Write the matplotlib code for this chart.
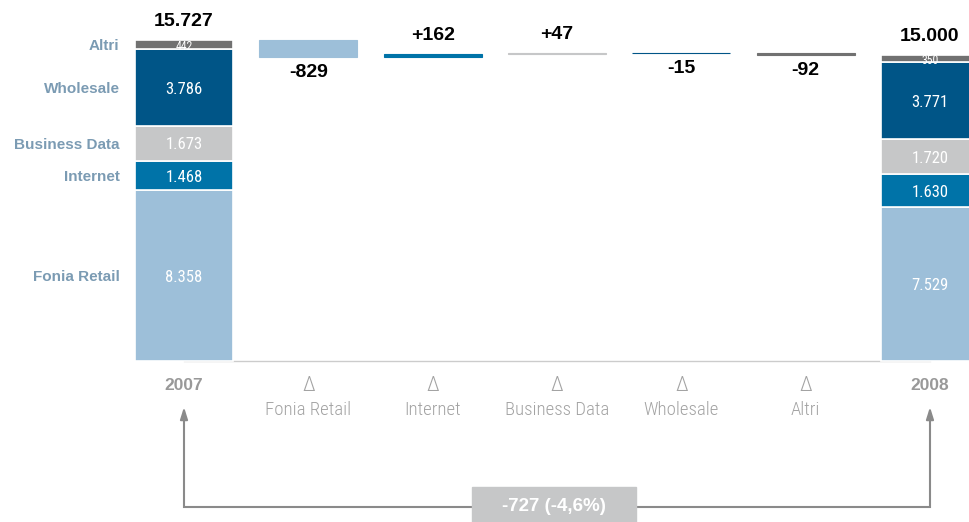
import matplotlib
matplotlib.use('Agg')
import matplotlib.pyplot as plt
from matplotlib.patches import Rectangle

# Ricavi per segmento (milioni di euro)
segments = ['Fonia Retail', 'Internet', 'Business Data', 'Wholesale', 'Altri']
values_2007 = [8358, 1468, 1673, 3786, 442]
values_2008 = [7529, 1630, 1720, 3771, 350]
years = ['2007', '2008']
colors = ['#9dbfd9', '#0073a8', '#c6c7c8', '#005587', '#717171']

deltas = [b - a for a, b in zip(values_2007, values_2008)]
total_2007 = sum(values_2007)
total_2008 = sum(values_2008)
change = total_2008 - total_2007
change_pct = change / total_2007 * 100

ARIAL = ['Liberation Sans', 'DejaVu Sans']
NARROW = ['Roboto Condensed', 'DejaVu Sans']


def fmt(v, sign=False):
    s = f'{v:+,}' if sign else f'{v:,}'
    return s.replace(',', '.')


W, H = 969, 522
fig = plt.figure(figsize=(W / 100, H / 100), dpi=100)
ax = fig.add_axes([0, 0, 1, 1])

# pixel layout: column spacing, baseline row, vertical scale
step = 124.33
x0 = 184
base = 361
k = 0.0204  # px per unit
ax.set_xlim(-x0 / step, (W - x0) / step)
ax.set_ylim(-(H - base) / k, base / k)
ax.axis('off')


def px(x, y):
    return (x - x0) / step, (base - y) / k


width = 0.79
last = len(segments) + 1
ax.plot([0, last], [0, 0], color='#cccccc', lw=1, zorder=0)

# stacked bars for the two years
for xi, vals, total in [(0, values_2007, total_2007), (last, values_2008, total_2008)]:
    bottom = 0
    for name, v, c in zip(segments, vals, colors):
        ax.bar(xi, v, width, bottom=bottom, color=c, edgecolor='white', lw=1.2, zorder=2)
        # thin segments get a slightly smaller label
        size = max(8.5, min(12, (v * k - 1) * 0.72 / 0.9))
        ax.text(xi, bottom + v / 2, fmt(v), ha='center', va='center_baseline',
                color='white', fontsize=size, family=NARROW, zorder=3)
        if xi == 0:
            ax.annotate(name, (xi - width / 2, bottom + v / 2), xytext=(-11, 0),
                        textcoords='offset points', ha='right', va='center_baseline',
                        fontsize=11, fontweight='bold', family=ARIAL, color='#7b9bb3')
        bottom += v
    ax.annotate(fmt(total), (xi, total), xytext=(0, 7), textcoords='offset points',
                ha='center', va='bottom', fontsize=14, fontweight='bold', family=ARIAL,
                color='black')

# waterfall of the deltas
level = total_2007
for i, (name, d, c) in enumerate(zip(segments, deltas, colors), start=1):
    lo, hi = min(level, level + d), max(level, level + d)
    ax.bar(i, hi - lo, width, bottom=lo, color=c, edgecolor=c, lw=0.8, zorder=2)
    if d >= 0:
        ax.annotate(fmt(d, sign=True), (i, hi), xytext=(0, 7), textcoords='offset points',
                    ha='center', va='bottom', fontsize=14, fontweight='bold', family=ARIAL)
    else:
        ax.annotate(fmt(d), (i, lo), xytext=(0, -5), textcoords='offset points',
                    ha='center', va='top', fontsize=14, fontweight='bold', family=ARIAL)
    level += d

# category labels under the baseline
for xi, year in [(0, years[0]), (last, years[1])]:
    ax.annotate(year, (xi, 0), xytext=(0, -17.5), textcoords='offset points',
                ha='center', va='center', fontsize=12.5, fontweight='bold', family=ARIAL,
                color='#999999')
for i, name in enumerate(segments, start=1):
    ax.annotate('Δ', (i, 0), xytext=(0, -17.5), textcoords='offset points',
                ha='center', va='center', fontsize=15, fontweight='light', family=NARROW,
                color='#a3a3a3')
    ax.annotate(name, (i, 0), xytext=(0, -35.5), textcoords='offset points',
                ha='center', va='center', fontsize=13.5, fontweight='light', family=NARROW,
                color='#a3a3a3')

# connector between the two totals
ln = '#8a8a8a'
_, ya = px(0, 506.5)
_, ytip = px(0, 407)
ax.plot([0, 0, last, last], [ytip - 300, ya, ya, ytip - 300], color=ln, lw=1.5,
        solid_joinstyle='miter', zorder=1)
for xi in (0, last):
    ax.annotate('', xy=(xi, ytip), xytext=(xi, ytip - 400),
                arrowprops=dict(arrowstyle='-|>,head_length=0.7,head_width=0.22',
                                color=ln, lw=1.5, shrinkA=0, shrinkB=0))

bx0, by0 = px(472, 540)
bx1, by1 = px(636, 487)
ax.add_patch(Rectangle((bx0, by0), bx1 - bx0, by1 - by0, color='#c6c7c8', zorder=3))
label = f'{change} ({change_pct:.1f}%)'.replace('.', ',')
ax.text((bx0 + bx1) / 2, ya, label, ha='center', va='center', color='white',
        fontsize=13.5, fontweight='bold', family=ARIAL, zorder=4)

fig.savefig('out.png', dpi=100)
